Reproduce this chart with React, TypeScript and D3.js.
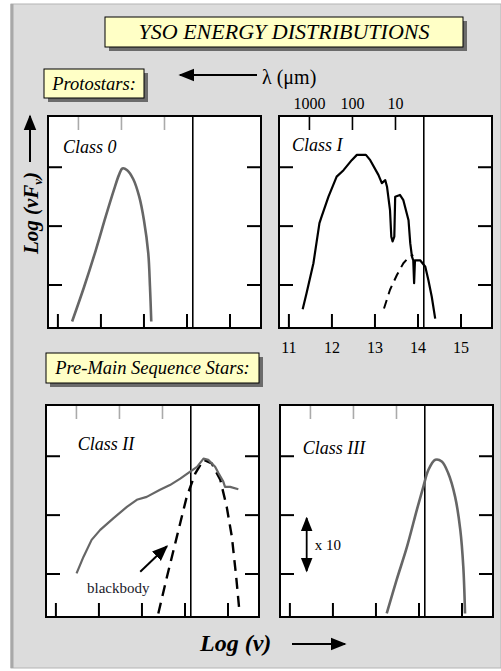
import React from 'react';
import * as d3 from 'd3';

// log(nu) tick values on the bottom axis, wavelength ticks (micron) on the top
const freqTicks = [11, 12, 13, 14, 15];
const waveTicks = [1000, 100, 10];
const levelTicks = [0, 1, 2];
const kBandMicron = 2.2; // vertical reference line

// SEDs as [log nu, log nuFnu] pairs
const class0Sed = [
  [11.33, -0.62], [11.61, -0.03], [11.88, 0.59], [12.11, 1.16], [12.3, 1.61],
  [12.42, 1.87], [12.5, 1.98], [12.61, 1.95], [12.75, 1.8], [12.89, 1.5],
  [13.0, 1.1], [13.1, 0.54], [13.14, -0.03], [13.17, -0.62],
];
const class1Sed = [
  [11.32, -0.41], [11.41, -0.14], [11.57, 0.37], [11.71, 1.05], [11.76, 1.16],
  [11.92, 1.5], [12.11, 1.84], [12.27, 1.95], [12.46, 2.12], [12.58, 2.21],
  [12.79, 2.21], [12.89, 2.12], [13.08, 1.87], [13.16, 1.73], [13.24, 1.78],
  [13.28, 1.67], [13.35, 1.27], [13.38, 0.82], [13.41, 0.74], [13.45, 0.82],
  [13.47, 1.5], [13.58, 1.53], [13.66, 1.44], [13.78, 1.1], [13.82, 0.71],
  [13.86, 0.48], [13.89, 0.42], [13.91, 0.03], [13.93, 0.42], [14.05, 0.42],
  [14.17, 0.31], [14.24, 0.09], [14.32, -0.2], [14.4, -0.57],
];
const class1Star = [
  [13.21, -0.4], [13.35, -0.08], [13.51, 0.17], [13.66, 0.37], [13.8, 0.48], [13.89, 0.51],
];
const class2Sed = [
  [11.48, 0.01], [11.64, 0.29], [11.83, 0.58], [12.03, 0.75], [12.34, 0.95],
  [12.65, 1.14], [12.88, 1.26], [13.11, 1.31], [13.42, 1.43], [13.65, 1.51],
  [13.89, 1.62], [14.12, 1.74], [14.28, 1.82], [14.43, 1.96], [14.54, 1.94],
  [14.7, 1.82], [14.78, 1.71], [14.89, 1.57], [14.93, 1.48], [15.05, 1.48], [15.24, 1.44],
];
const class2Star = [
  [13.38, -0.67], [13.58, -0.05], [13.81, 0.63], [14.04, 1.31], [14.24, 1.71],
  [14.43, 1.94], [14.62, 1.88], [14.82, 1.6], [14.97, 1.14], [15.09, 0.63],
  [15.19, -0.05], [15.27, -0.67],
];
const class3Sed = [
  [13.25, -0.67], [13.48, -0.1], [13.72, 0.46], [13.95, 1.09], [14.1, 1.48],
  [14.22, 1.77], [14.38, 1.94], [14.53, 1.91], [14.68, 1.71], [14.84, 1.31],
  [14.96, 0.75], [15.03, 0.12], [15.07, -0.67],
];

const W = 501;
const H = 671;
const PW = 213;
const PH = 212;
const serif = '"Liberation Serif", "DejaVu Serif", serif';

const x = d3.scaleLinear().domain([10.77, 15.72]).range([0, PW]);
const y = d3.scaleLinear().domain([-0.73, 2.87]).range([PH, 0]);
const lambdaToLogNu = (um: number) => Math.log10(3e14 / um);

const lineLinear = d3.line<number[]>().x(d => x(d[0])).y(d => y(d[1]));
const lineSmooth = d3.line<number[]>().x(d => x(d[0])).y(d => y(d[1])).curve(d3.curveCatmullRom);

type Curve = { data: number[][]; smooth?: boolean; color: string; width: number; dash?: string };

function Panel({ left, top, label, labelAt, curves, topTickColor, children }: {
  left: number; top: number; label: string; labelAt: number[]; curves: Curve[]; topTickColor: string; children?: React.ReactNode;
}) {
  const tl = 14;
  return (
    <g transform={`translate(${left},${top})`}>
      <rect x={0} y={0} width={PW} height={PH} fill="#fff" />
      {freqTicks.map(t => (
        <line key={'b' + t} x1={x(t)} x2={x(t)} y1={PH} y2={PH - tl} stroke="#000" strokeWidth={2} />
      ))}
      {waveTicks.map(t => (
        <line key={'t' + t} x1={x(lambdaToLogNu(t))} x2={x(lambdaToLogNu(t))} y1={0} y2={tl}
          stroke={topTickColor} strokeWidth={1.6} />
      ))}
      {levelTicks.map(t => (
        <g key={'y' + t}>
          <line x1={0} x2={tl} y1={y(t)} y2={y(t)} stroke="#000" strokeWidth={2} />
          <line x1={PW} x2={PW - tl} y1={y(t)} y2={y(t)} stroke="#000" strokeWidth={2} />
        </g>
      ))}
      <line x1={x(lambdaToLogNu(kBandMicron))} x2={x(lambdaToLogNu(kBandMicron))} y1={0} y2={PH}
        stroke="#000" strokeWidth={1.6} />
      {curves.map((c, i) => (
        <path key={i} d={(c.smooth ? lineSmooth : lineLinear)(c.data as any) || ''} fill="none"
          stroke={c.color} strokeWidth={c.width} strokeDasharray={c.dash} strokeLinejoin="round" />
      ))}
      <text x={x(labelAt[0])} y={y(labelAt[1])} fontFamily={serif} fontStyle="italic" fontSize={18}>{label}</text>
      {children}
      <rect x={0} y={0} width={PW} height={PH} fill="none" stroke="#000" strokeWidth={2} />
    </g>
  );
}

function LabelBox({ bx, by, bw, bh, text, size }: { bx: number; by: number; bw: number; bh: number; text: string; size: number }) {
  return (
    <g>
      <rect x={bx + 4} y={by + 4} width={bw} height={bh} fill="#6b6b6b" />
      <rect x={bx} y={by} width={bw} height={bh} fill="#ffffc6" stroke="#000" strokeWidth={1} />
      <text x={bx + bw / 2} y={by + bh / 2 + size * 0.33} textAnchor="middle" fontFamily={serif}
        fontStyle="italic" fontSize={size}>{text}</text>
    </g>
  );
}

export default function App() {
  const gray = '#666';
  return (
    <svg width={W} height={H} style={{ position: 'absolute', left: 0, top: 0 }}>
      <defs>
        <marker id="ah" viewBox="0 0 10 10" refX="9" refY="5" markerWidth="8" markerHeight="8" orient="auto-start-reverse">
          <path d="M0,1 L10,5 L0,9 z" fill="#000" />
        </marker>
      </defs>
      <rect x={0} y={0} width={W} height={H} fill="#fff" />
      <rect x={11} y={4} width={W - 11} height={664} fill="#dcdcdc" stroke="#b4b4b4" strokeWidth={1} />
      <line x1={12} x2={12} y1={4} y2={668} stroke="#a8a8a8" strokeWidth={3} />

      <LabelBox bx={105} by={17} bw={358} bh={30} text="YSO ENERGY DISTRIBUTIONS" size={22} />
      <LabelBox bx={44} by={69} bw={100} bh={29} text="Protostars:" size={18.5} />
      <LabelBox bx={46} by={353} bw={213} bh={30} text="Pre-Main Sequence Stars:" size={18.5} />

      {/* lambda arrow */}
      <line x1={257} x2={180} y1={75} y2={75} stroke="#000" strokeWidth={2} markerEnd="url(#ah)" />
      <text x={262} y={84} fontFamily={serif} fontSize={20}>λ (μm)</text>

      {/* y axis label */}
      <line x1={30} x2={30} y1={162} y2={116} stroke="#000" strokeWidth={2} markerEnd="url(#ah)" />
      <text transform="translate(38,213) rotate(-90)" textAnchor="middle" fontFamily={serif}
        fontStyle="italic" fontWeight="bold" fontSize={21}>
        Log (νF<tspan fontSize={13} dy={4}>ν</tspan><tspan dy={-4}>)</tspan>
      </text>

      <Panel left={48} top={116} label="Class 0" labelAt={[11.12, 2.24]} topTickColor="#aaa"
        curves={[{ data: class0Sed, smooth: true, color: gray, width: 2.6 }]} />

      <Panel left={279} top={116} label="Class I" labelAt={[11.07, 2.28]} topTickColor="#000"
        curves={[
          { data: class1Star, color: '#000', width: 2, dash: '9,6' },
          { data: class1Sed, color: '#000', width: 2.2 },
        ]}>
        {waveTicks.map(t => (
          <text key={t} x={x(lambdaToLogNu(t))} y={-7} textAnchor="middle" fontFamily={serif} fontSize={16}>{t}</text>
        ))}
        {freqTicks.map(t => (
          <text key={t} x={x(t)} y={PH + 25} textAnchor="middle" fontFamily={serif} fontSize={16}>{t}</text>
        ))}
      </Panel>

      <Panel left={46} top={405} label="Class II" labelAt={[11.51, 2.11]} topTickColor="#aaa"
        curves={[
          { data: class2Star, color: '#000', width: 2.4, dash: '11,7' },
          { data: class2Sed, color: gray, width: 2.2 },
        ]}>
        <line x1={x(12.96)} y1={y(0.04)} x2={x(13.58)} y2={y(0.47)} stroke="#000" strokeWidth={2} markerEnd="url(#ah)" />
        <text x={x(12.45)} y={y(-0.33)} textAnchor="middle" fontFamily={serif} fontSize={15} fill="#1a1a2a">blackbody</text>
      </Panel>

      <Panel left={280} top={405} label="Class III" labelAt={[11.3, 2.04]} topTickColor="#aaa"
        curves={[{ data: class3Sed, smooth: true, color: gray, width: 2.6 }]}>
        <line x1={x(11.39)} x2={x(11.39)} y1={y(0.05)} y2={y(0.95)} stroke="#000" strokeWidth={1.8}
          markerStart="url(#ah)" markerEnd="url(#ah)" />
        <text x={x(11.58)} y={y(0.4)} fontFamily={serif} fontSize={15}>x 10</text>
      </Panel>

      {/* x axis label */}
      <text x={200} y={651} fontFamily={serif} fontStyle="italic" fontWeight="bold" fontSize={24}>Log (ν)</text>
      <line x1={292} x2={345} y1={644} y2={644} stroke="#000" strokeWidth={2} markerEnd="url(#ah)" />
    </svg>
  );
}
